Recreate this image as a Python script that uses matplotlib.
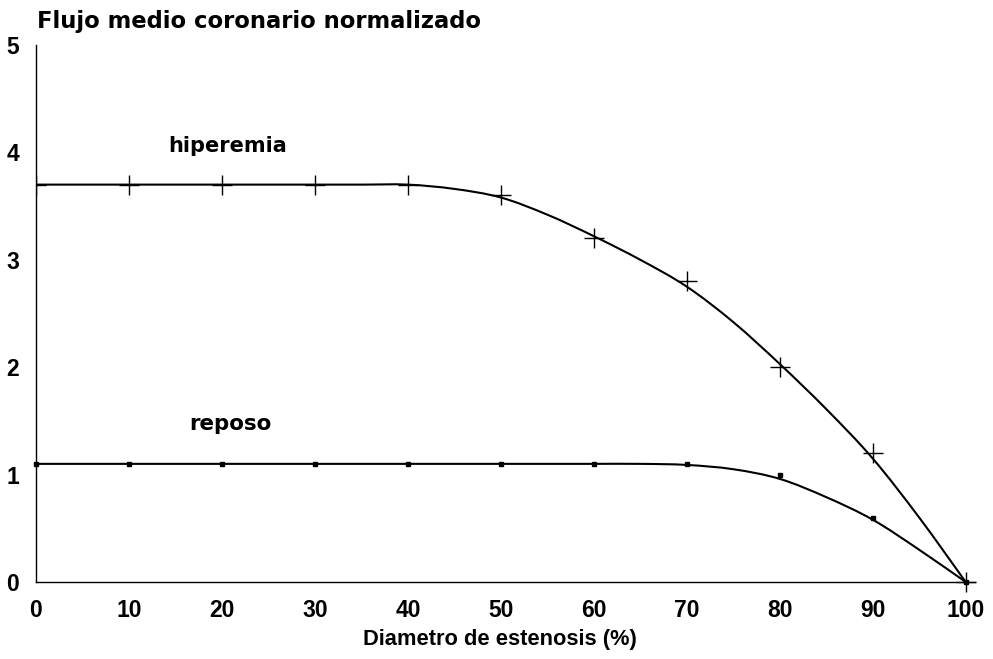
import matplotlib
matplotlib.use("Agg")
import matplotlib.pyplot as plt
from matplotlib.path import Path
from matplotlib.patches import PathPatch
from matplotlib.transforms import Bbox, TransformedBbox
from matplotlib import font_manager as fm

# Data
x_points = [0, 10, 20, 30, 40, 50, 60, 70, 80, 90, 100]
hiperemia_points = [3.7, 3.7, 3.7, 3.7, 3.7, 3.6, 3.2, 2.8, 2.0, 1.2, 0.0]
reposo_points = [1.1, 1.1, 1.1, 1.1, 1.1, 1.1, 1.1, 1.1, 1.0, 0.6, 0.0]

# Fitted curves
x_curve = [0, 5, 10, 15, 20, 25, 30, 35, 40, 45, 50, 55, 60, 65, 70, 75, 80, 85, 90, 95, 100]
hiperemia_curve = [3.7, 3.7, 3.7, 3.7, 3.7, 3.7, 3.7, 3.7, 3.70, 3.66, 3.58, 3.42, 3.22, 3.00,
                   2.75, 2.42, 2.03, 1.61, 1.15, 0.60, 0.0]
reposo_curve = [1.1, 1.1, 1.1, 1.1, 1.1, 1.1, 1.1, 1.1, 1.1, 1.1, 1.1, 1.1, 1.1, 1.1,
                1.09, 1.05, 0.96, 0.79, 0.58, 0.30, 0.0]

x_ticks = [0, 10, 20, 30, 40, 50, 60, 70, 80, 90, 100]
y_ticks = [0, 1, 2, 3, 4, 5]


def bold_font_file(family):
    cands = [f for f in fm.fontManager.ttflist
             if f.name == family and f.weight in (700, 'bold') and f.style == 'normal'
             and 'Narrow' not in f.fname]
    if cands:
        return fm.FontProperties(fname=cands[0].fname)
    return fm.FontProperties(family=family, weight='bold')


LIB_BOLD = bold_font_file('Liberation Sans')
DEJ_BOLD = bold_font_file('DejaVu Sans')

DPI = 100
plt.rcParams['font.family'] = ['Liberation Sans', 'DejaVu Sans']

fig = plt.figure(figsize=(9.93, 6.59), dpi=DPI)
W, H = 993, 659
ax = fig.add_axes([36/W, 1-582/H, (975-36)/W, 537/H])


def smooth_path(xs, ys):
    """Catmull-Rom style cubic Bezier path through the given points."""
    pts = list(zip(xs, ys))
    verts = [pts[0]]
    codes = [Path.MOVETO]
    n = len(pts)
    for i in range(n - 1):
        p0 = pts[i - 1] if i > 0 else pts[i]
        p1 = pts[i]
        p2 = pts[i + 1]
        p3 = pts[i + 2] if i + 2 < n else pts[i + 1]
        c1 = (p1[0] + (p2[0] - p0[0]) / 6, p1[1] + (p2[1] - p0[1]) / 6)
        c2 = (p2[0] - (p3[0] - p1[0]) / 6, p2[1] - (p3[1] - p1[1]) / 6)
        verts += [c1, c2, p2]
        codes += [Path.CURVE4] * 3
    return Path(verts, codes)


for yc in (hiperemia_curve, reposo_curve):
    ax.add_patch(PathPatch(smooth_path(x_curve, yc), fill=False, edgecolor='black',
                           lw=1.5, capstyle='round', joinstyle='round'))

# markers: clipped at the y axis on the left, free on the right and bottom
clip = TransformedBbox(Bbox([[0, -0.2], [1.2, 1.2]]), ax.transAxes)
(hip_line,) = ax.plot(x_points, hiperemia_points, linestyle='none', marker='+',
                      markersize=15, markeredgewidth=1.0, color='black')
hip_line.set_clip_box(clip)
ax.plot(x_points, reposo_points, linestyle='none', marker='s', markersize=3.2,
        color='black', clip_on=False)

ax.set_xlim(0, 101)
ax.set_ylim(0, 5)
ax.set_xticks(x_ticks)
ax.set_yticks(y_ticks)
ax.set_xticklabels([str(v) for v in x_ticks], fontproperties=LIB_BOLD, fontsize=16.5)
ax.set_yticklabels([str(v) for v in y_ticks], fontproperties=LIB_BOLD, fontsize=16.5)
ax.tick_params(length=0, pad=12)

for s in ['top', 'right']:
    ax.spines[s].set_visible(False)
for s in ['left', 'bottom']:
    ax.spines[s].set_linewidth(1.0)

renderer = fig.canvas.get_renderer()


def fitted_text(s, x0, x1, y_base, prop, ha='left'):
    """Bold text whose width spans pixel x0..x1, baseline at pixel y_base."""
    xa = x0 if ha == 'left' else (x0 + x1) / 2
    t = fig.text(xa / W, 1 - y_base / H, s, ha=ha, va='baseline',
                 fontproperties=prop, fontsize=14)
    w = t.get_window_extent(renderer).width
    t.set_fontsize(14 * (x1 - x0) / w)
    return t


fitted_text('Flujo medio coronario normalizado', 37, 483, 28, DEJ_BOLD)
fitted_text('Diametro de estenosis (%)', 363, 637, 645, LIB_BOLD, ha='center')
fitted_text('hiperemia', 168, 287, 152, DEJ_BOLD)
fitted_text('reposo', 189, 272, 430, DEJ_BOLD)

fig.savefig('out.png', dpi=DPI, facecolor='white')
